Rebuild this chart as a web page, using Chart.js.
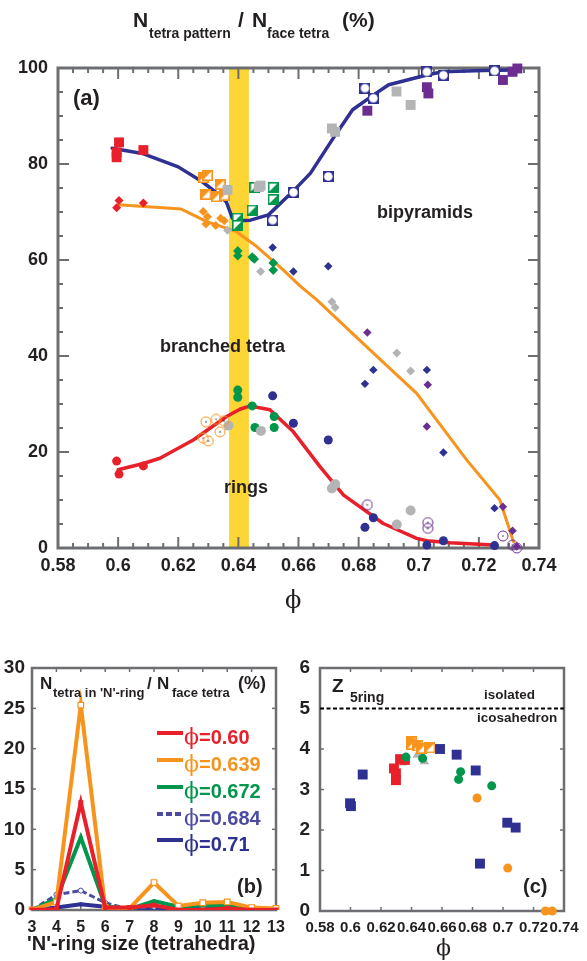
<!DOCTYPE html>
<html>
<head>
<meta charset="utf-8">
<script src="https://cdn.jsdelivr.net/npm/chart.js@4.4.0/dist/chart.umd.min.js"></script>
<style>
  html, body { margin: 0; padding: 0; background: #fff; }
  #page { position: relative; width: 587px; height: 961px; overflow: hidden;
          font-family: "Liberation Sans", Arial, sans-serif; color: #231f20; }
  canvas { position: absolute; }
  .t { position: absolute; line-height: 1; white-space: nowrap; font-weight: bold; }
  .phi { font-family: "DejaVu Serif", serif; font-weight: normal; }
  .bar { position: absolute; height: 4px; width: 26px; }
</style>
</head>
<body>
<div id="page">
  <canvas id="chartA" width="587" height="620" style="left:0;top:0"></canvas>
  <canvas id="chartB" width="290" height="341" style="left:0;top:620px"></canvas>
  <canvas id="chartC" width="297" height="341" style="left:290px;top:620px"></canvas>

  <!-- panel (a) title -->
  <div class="t" style="left:133px;top:9px;font-size:21px">N</div>
  <div class="t" style="left:149px;top:25.6px;font-size:14px">tetra pattern</div>
  <div class="t" style="left:238px;top:9px;font-size:21px">/</div>
  <div class="t" style="left:252px;top:9px;font-size:21px">N</div>
  <div class="t" style="left:267px;top:25.6px;font-size:14px">face tetra</div>
  <div class="t" style="left:342px;top:9px;font-size:21px">(%)</div>

  <div class="t" style="left:73px;top:87px;font-size:22px">(a)</div>
  <div class="t" style="left:377px;top:203px;font-size:18px">bipyramids</div>
  <div class="t" style="left:160px;top:337px;font-size:18px">branched tetra</div>
  <div class="t" style="left:224px;top:478px;font-size:18px">rings</div>
  <div class="t phi" style="left:285px;top:588px;font-size:24px">ϕ</div>

  <!-- panel (b) -->
  <div class="t" style="left:40px;top:674.5px;font-size:17px">N</div>
  <div class="t" style="left:53px;top:686px;font-size:13px">tetra in 'N'-ring</div>
  <div class="t" style="left:147px;top:674.5px;font-size:17px">/</div>
  <div class="t" style="left:157px;top:674.5px;font-size:17px">N</div>
  <div class="t" style="left:172px;top:686px;font-size:13px">face tetra</div>
  <div class="t" style="left:238px;top:674px;font-size:18px">(%)</div>
  <div class="t" style="left:237px;top:876px;font-size:20px">(b)</div>
  <div class="t" style="left:27px;top:933px;font-size:20px">'N'-ring size (tetrahedra)</div>
  <div id="legendB"></div>

  <!-- panel (c) -->
  <div class="t" style="left:332px;top:676px;font-size:19px">Z</div>
  <div class="t" style="left:350px;top:690px;font-size:14px">5ring</div>
  <div class="t" style="left:484px;top:687.5px;font-size:13.5px">isolated</div>
  <div class="t" style="left:477px;top:710.5px;font-size:13.5px">icosahedron</div>
  <div class="t" style="left:523px;top:876px;font-size:20px">(c)</div>
  <div class="t phi" style="left:436px;top:937px;font-size:22px">ϕ</div>
</div>

<script>
// ---------- panel (a): N_tetra pattern / N_face tetra vs phi ----------
const bandLo = 0.6369, bandHi = 0.6435;

// fitted curves
const bipyCurve = [[0.598,83.3],[0.608,82.2],[0.620,79.4],[0.628,76.3],[0.633,73.9],[0.636,72.1],[0.638,68.7],[0.6395,68.2],[0.644,68.3],[0.650,69.4],[0.658,74.2],[0.664,78.1],[0.672,85.8],[0.678,91.3],[0.685,94.4],[0.690,96.5],[0.703,98.6],[0.708,99.2],[0.7215,99.5],[0.7315,99.6]];
const branchCurve = [[0.600,71.5],[0.621,70.6],[0.6295,68.0],[0.6394,65.9],[0.6461,62.8],[0.655,57.9],[0.6605,54.6],[0.6661,51.7],[0.6827,41.9],[0.6993,32.2],[0.716,18.3],[0.727,10.0],[0.7315,1.3]];
const ringsCurve = [[0.600,16.3],[0.6084,17.6],[0.6139,18.7],[0.625,22.5],[0.6361,27.4],[0.6405,28.9],[0.6439,29.6],[0.6505,28.8],[0.6583,24.2],[0.6672,16.9],[0.675,11.0],[0.6882,5.1],[0.6993,2.0],[0.7027,1.5],[0.7104,1.1],[0.7248,0.6]];

// measured points: squares = bipyramids, diamonds = branched, circles = rings
const redSq = [[0.5995,82.4],[0.5995,81.4],[0.6003,84.5],[0.6084,82.9]];
const redDia = [[0.5995,70.9],[0.6003,72.4],[0.6084,71.9]];
const redCirc = [[0.5995,18.1],[0.6003,15.4],[0.6084,17.1]];

const orangeSq = [[0.6283,77.2],[0.6297,77.6],[0.6339,75.8],[0.6292,73.7],[0.6326,73.2],[0.6353,73.5]];
const orangeDia = [[0.6283,70.1],[0.6297,69.0],[0.6292,67.5],[0.6325,67.2],[0.6341,68.7],[0.6353,68.2]];
const orangeCirc = [[0.6292,26.3],[0.6326,26.8],[0.6352,26.5],[0.6283,22.9],[0.6300,22.3],[0.6339,24.2]];

const graySq = [[0.6364,74.6],[0.6474,75.5],[0.6468,75.2],[0.6711,87.4],[0.6722,86.7],[0.6926,95.1],[0.6973,92.3]];
const grayDia = [[0.6364,66.2],[0.6474,57.6],[0.6711,51.3],[0.6722,50.1],[0.6927,40.6],[0.6973,36.9]];
const grayCirc = [[0.6367,25.5],[0.6475,24.4],[0.6711,12.4],[0.6722,13.3],[0.6927,4.9],[0.6973,7.8]];

const greenSq = [[0.6397,68.7],[0.6397,67.2],[0.6446,70.4],[0.6455,75.1],[0.6516,75.1],[0.6516,72.6]];
const greenDia = [[0.6398,61.9],[0.6398,60.9],[0.6446,60.6],[0.6453,60.2],[0.6516,59.4],[0.6516,57.9]];
const greenCirc = [[0.6398,32.9],[0.6398,31.4],[0.6446,29.6],[0.6455,25.1],[0.6519,27.4],[0.6519,25.1]];

const blueSq = [[0.6514,68.3],[0.6583,74.1],[0.6699,77.4],[0.6821,95.8],[0.6849,93.7],[0.7027,99.2],[0.7082,98.5],[0.7252,99.4]];
const blueDia = [[0.6514,62.6],[0.6583,57.6],[0.6699,58.7],[0.6821,34.2],[0.6849,37.1],[0.7027,37.1],[0.7082,19.9],[0.7252,8.3]];
const blueCirc = [[0.6514,31.7],[0.6583,26.0],[0.6699,22.5],[0.6821,4.3],[0.6849,6.3],[0.7027,0.6],[0.7082,1.5],[0.7252,0.5]];

const purpleSq = [[0.6829,91.1],[0.7027,96.0],[0.7032,94.7],[0.7280,97.5],[0.7312,99.2],[0.7328,99.9]];
const purpleDia = [[0.6829,44.9],[0.7030,34.0],[0.7027,25.3],[0.7280,8.6],[0.7312,3.6],[0.7326,0.3]];
const purpleCirc = [[0.6829,9.0],[0.7030,5.3],[0.7030,4.1],[0.7280,2.5],[0.7312,0.6],[0.7326,0.0]];

// ---------- panel (b): ring size distribution ----------
const ringSizes = ["3", "4", "5", "6", "7", "8", "9", "10", "11", "12", "13"];
const phiLabels = ["0.60", "0.639", "0.672", "0.684", "0.71"];
const ring060 = [0, 0.1, 13.3, 0.3, 0.3, 0.6, 0, 0, 0.2, 0, 0];
const ring0639 = [0, 1.0, 25.4, 0.3, 0.2, 3.4, 0.5, 0.9, 1.0, 0.3, 0.2];
const ring0672 = [0, 1.4, 9.0, 0.5, 0.1, 1.1, 0.4, 0.6, 0.5, 0.2, 0.1];
const ring0684 = [0, 1.9, 2.4, 0.9, 0.1, 0.4, 0.2, 0.3, 0.5, 0.1, 0];
const ring071 = [0, 0.3, 0.7, 0.4, 0.1, 0.3, 0.1, 0.2, 0.3, 0.1, 0];

// ---------- panel (c): Z_5ring vs phi ----------
const icosaZ = 5;
const cBlue = [[0.5997,2.66],[0.6003,2.59],[0.608,3.37],[0.6587,4.0],[0.6696,3.86],[0.6821,3.47],[0.6849,1.17],[0.7028,2.18],[0.7083,2.06]];
const cRed = [[0.6285,3.52],[0.6298,3.40],[0.6298,3.23],[0.6325,3.75],[0.6357,3.73]];
const cGray = [[0.6336,3.66],[0.6438,3.85],[0.6484,3.69]];
const cGreen = [[0.6364,3.80],[0.6473,3.77],[0.6709,3.25],[0.6722,3.44],[0.6926,3.09]];
const cOrangeSq = [[0.6397,4.18],[0.6402,4.12],[0.6440,4.08],[0.6467,4.02],[0.6521,4.03]];
const cOrangeCirc = [[0.6830,2.79],[0.7031,1.06],[0.7278,0],[0.7323,0]];

// colours
const RED = "#e8202a", ORANGE = "#f7941d", GREEN = "#00964b", GRAY = "#b3b4b6",
      BLUE = "#2e3192", PURPLE = "#6b2d90", LBLUE = "#4b4ba3", YELLOW = "#fdd535",
      INK = "#231f20", FRAME = "#6d6e71";
const FONT = "'Liberation Sans', Arial, sans-serif";

const xy = (arr) => arr.map(([x, y]) => ({ x, y }));
const phiFmt = (v) => String(+v.toFixed(2));

// custom markers
function marker(size, draw) {
  const c = document.createElement("canvas");
  c.width = c.height = size;
  draw(c.getContext("2d"), size);
  return c;
}
const halfSq = (col, lowerRight) => marker(11, (g, s) => {
  g.fillStyle = "#fff"; g.fillRect(0, 0, s, s);
  g.fillStyle = col; g.beginPath();
  if (lowerRight) { g.moveTo(s, 0); g.lineTo(s, s); g.lineTo(0, s); }
  else { g.moveTo(0, 0); g.lineTo(s, 0); g.lineTo(0, s); }
  g.fill();
  g.strokeStyle = col; g.lineWidth = 1.6; g.strokeRect(0.8, 0.8, s - 1.6, s - 1.6);
});
const sqCircle = (col) => marker(11, (g, s) => {
  g.fillStyle = col; g.fillRect(0, 0, s, s);
  g.fillStyle = "#fff"; g.beginPath(); g.arc(s / 2, s / 2, s / 2 - 1.2, 0, Math.PI * 2); g.fill();
});
const ringDot = (col) => marker(12, (g, s) => {
  g.strokeStyle = col; g.lineWidth = 1; g.beginPath();
  g.arc(s / 2, s / 2, s / 2 - 1, 0, Math.PI * 2); g.stroke();
  g.fillStyle = "#000"; g.fillRect(s / 2 - 0.6, s / 2 - 0.6, 1.2, 1.2);
});

// band + frame with inward ticks
const bandPlugin = {
  id: "band",
  beforeDatasetsDraw(chart, args, o) {
    if (!o || o.from == null) return;
    const { ctx, chartArea: a, scales: { x } } = chart;
    const x1 = x.getPixelForValue(o.from), x2 = x.getPixelForValue(o.to);
    ctx.save();
    ctx.fillStyle = o.color;
    ctx.fillRect(x1, a.top, x2 - x1, a.bottom - a.top);
    ctx.restore();
  },
};
const framePlugin = {
  id: "frame",
  beforeDatasetsDraw(chart, args, o) {
    const { ctx, chartArea: a, scales: { x, y } } = chart;
    ctx.save();
    ctx.strokeStyle = FRAME;
    ctx.lineWidth = o.tickWidth;
    const seg = (x1, y1, x2, y2) => { ctx.beginPath(); ctx.moveTo(x1, y1); ctx.lineTo(x2, y2); ctx.stroke(); };
    const nx = Math.round((x.max - x.min) / o.xMinor);
    for (let i = 0; i <= nx; i++) {
      const px = x.getPixelForValue(x.min + i * o.xMinor);
      const len = i % o.xEvery === 0 ? o.majorLen : o.minorLen;
      seg(px, a.bottom, px, a.bottom - len);
      seg(px, a.top, px, a.top + len);
    }
    const ny = Math.round((y.max - y.min) / o.yMinor);
    for (let i = 0; i <= ny; i++) {
      const py = y.getPixelForValue(y.min + i * o.yMinor);
      const len = i % o.yEvery === 0 ? o.majorLen : o.minorLen;
      seg(a.left, py, a.left + len, py);
      seg(a.right, py, a.right - len, py);
    }
    ctx.lineWidth = o.width;
    ctx.strokeRect(a.left, a.top, a.right - a.left, a.bottom - a.top);
    ctx.restore();
  },
};

function axes(opt) {
  const tickFont = (size) => ({ family: FONT, weight: "bold", size });
  const xTicks = { stepSize: opt.xStep, autoSkip: false, maxRotation: 0, padding: opt.xPad,
                   color: INK, font: tickFont(opt.xFont) };
  if (opt.xFmt) xTicks.callback = opt.xFmt;
  return {
    x: {
      type: opt.xType || "linear", min: opt.xMin, max: opt.xMax,
      grid: { display: false, drawTicks: false }, border: { display: false },
      ticks: xTicks,
      afterFit: (s) => { s.height = opt.xH; s.paddingLeft = 0; s.paddingRight = 0; },
    },
    y: {
      min: opt.yMin, max: opt.yMax,
      grid: { display: false, drawTicks: false }, border: { display: false },
      ticks: { stepSize: opt.yStep, padding: opt.yPad, color: INK, font: tickFont(opt.yFont) },
      afterFit: (s) => { s.width = opt.yW; s.paddingTop = 0; s.paddingBottom = 0; },
    },
  };
}

const common = { responsive: false, animation: false, events: [] };

// ---------- chart (a) ----------
function pts(data, color, style, r) {
  return { data: xy(data), pointStyle: style, pointRadius: r, backgroundColor: color,
           borderColor: color, pointBorderWidth: 0, clip: false };
}
function curve(data, color, w) {
  return { data: xy(data), showLine: true, borderColor: color, borderWidth: w, pointRadius: 0,
           tension: 0, borderJoinStyle: "round", borderCapStyle: "round" };
}

new Chart(document.getElementById("chartA"), {
  type: "scatter",
  data: {
    datasets: [
      pts(redSq, RED, "rect", 7),
      pts(purpleSq, PURPLE, "rect", 7),
      pts(graySq, GRAY, "rect", 7),
      pts(orangeSq, ORANGE, halfSq(ORANGE, false), 5),
      pts(greenSq, GREEN, halfSq(GREEN, true), 5),
      pts(blueSq, BLUE, sqCircle(BLUE), 5),
      pts(redDia, RED, "rectRot", 4.5),
      pts(orangeDia, ORANGE, "rectRot", 4.5),
      pts(grayDia, GRAY, "rectRot", 4.5),
      pts(greenDia, GREEN, "rectRot", 4.8),
      pts(blueDia, BLUE, "rectRot", 4.2),
      pts(purpleDia, PURPLE, "rectRot", 4.2),
      pts(redCirc, RED, "circle", 4.5),
      pts(orangeCirc, ORANGE, ringDot(ORANGE), 5),
      pts(grayCirc, GRAY, "circle", 5),
      pts(greenCirc, GREEN, "circle", 4.5),
      pts(blueCirc, BLUE, "circle", 4.5),
      pts(purpleCirc, PURPLE, ringDot(PURPLE), 5),
      curve(bipyCurve, BLUE, 3.5),
      curve(branchCurve, ORANGE, 3),
      curve(ringsCurve, RED, 3.5),
    ],
  },
  options: {
    ...common,
    layout: { padding: { top: 68, right: 48, left: 0, bottom: 0 } },
    plugins: {
      legend: { display: false }, tooltip: { enabled: false },
      band: { from: bandLo, to: bandHi, color: YELLOW },
      frame: { width: 3, tickWidth: 2, majorLen: 11, minorLen: 5,
               xMinor: 0.005, xEvery: 4, yMinor: 5, yEvery: 4 },
    },
    scales: axes({ xMin: 0.58, xMax: 0.74, xStep: 0.02, xPad: 7, xFont: 18, xH: 72, xFmt: phiFmt,
                   yMin: 0, yMax: 100, yStep: 20, yPad: 10, yFont: 18, yW: 58 }),
  },
  plugins: [bandPlugin, framePlugin],
});

// ---------- chart (b) ----------
const ringSeries = [ring060, ring0639, ring0672, ring0684, ring071];
const ringColors = [RED, ORANGE, GREEN, LBLUE, BLUE];
const ringStyles = [
  { pointStyle: "rect", pointRadius: 3.5, pointBackgroundColor: RED, pointBorderWidth: 0 },
  { pointStyle: "rect", pointRadius: 4, pointBackgroundColor: "#fff", pointBorderColor: ORANGE, pointBorderWidth: 1.2 },
  { pointStyle: "circle", pointRadius: 2, pointBackgroundColor: GREEN, pointBorderWidth: 0 },
  { pointStyle: "circle", pointRadius: 2.5, pointBackgroundColor: "#fff", pointBorderColor: LBLUE, pointBorderWidth: 1, borderDash: [6, 3] },
  { pointStyle: "circle", pointRadius: 2.2, pointBackgroundColor: BLUE, pointBorderWidth: 0 },
];

new Chart(document.getElementById("chartB"), {
  type: "line",
  data: {
    labels: ringSizes,
    datasets: ringSeries.map((vals, i) => ({
      label: "ϕ=" + phiLabels[i], data: vals, borderColor: ringColors[i],
      borderWidth: i === 3 ? 3 : 4, tension: 0, borderJoinStyle: "miter", ...ringStyles[i],
    })),
  },
  options: {
    ...common,
    layout: { padding: { top: 48, right: 14, left: 0, bottom: 0 } },
    plugins: {
      legend: { display: false }, tooltip: { enabled: false },
      frame: { width: 2.5, tickWidth: 1.5, majorLen: 4, minorLen: 4, xMinor: 1, xEvery: 1, yMinor: 5, yEvery: 1 },
    },
    scales: axes({ xType: "category", xPad: 8, xFont: 16, xH: 51,
                   yMin: 0, yMax: 30, yStep: 5, yPad: 7, yFont: 19, yW: 32 }),
  },
  plugins: [framePlugin],
});

// legend for (b)
const legendTops = [733, 760, 787, 814, 840];
const legendEl = document.getElementById("legendB");
phiLabels.forEach((lab, i) => {
  const bar = document.createElement("div");
  bar.className = "bar";
  bar.style.cssText = `left:157px;top:${legendTops[i] - 2}px;background:${ringColors[i]};` +
    (i === 3 ? `background:repeating-linear-gradient(90deg,${LBLUE} 0 6px,transparent 6px 9px);` : "");
  legendEl.appendChild(bar);
  const txt = document.createElement("div");
  txt.className = "t";
  txt.style.cssText = `left:184px;top:${legendTops[i] - 7}px;font-size:20px;color:${ringColors[i]}`;
  txt.innerHTML = `<span class="phi" style="font-size:22px">ϕ</span>=${lab}`;
  legendEl.appendChild(txt);
});

// ---------- chart (c) ----------
new Chart(document.getElementById("chartC"), {
  type: "scatter",
  data: {
    datasets: [
      pts(cOrangeSq, ORANGE, halfSq(ORANGE, false), 5),
      pts(cGreen, GREEN, "circle", 4.5),
      pts(cRed, RED, "rect", 7),
      pts(cGray, GRAY, "triangle", 5.5),
      pts(cBlue, BLUE, "rect", 7),
      pts(cOrangeCirc, ORANGE, "circle", 4.5),
      { data: [{ x: 0.58, y: icosaZ }, { x: 0.74, y: icosaZ }], showLine: true, borderColor: "#000",
        borderWidth: 2, borderDash: [4, 2.5], pointRadius: 0 },
    ],
  },
  options: {
    ...common,
    layout: { padding: { top: 48, right: 23, left: 0, bottom: 0 } },
    plugins: {
      legend: { display: false }, tooltip: { enabled: false },
      frame: { width: 2.5, tickWidth: 1.5, majorLen: 4, minorLen: 4, xMinor: 0.02, xEvery: 1, yMinor: 1, yEvery: 1 },
    },
    scales: axes({ xMin: 0.58, xMax: 0.74, xStep: 0.02, xPad: 8, xFont: 15, xH: 50, xFmt: phiFmt,
                   yMin: 0, yMax: 6, yStep: 1, yPad: 10, yFont: 19, yW: 30 }),
  },
  plugins: [framePlugin],
});
</script>
</body>
</html>
